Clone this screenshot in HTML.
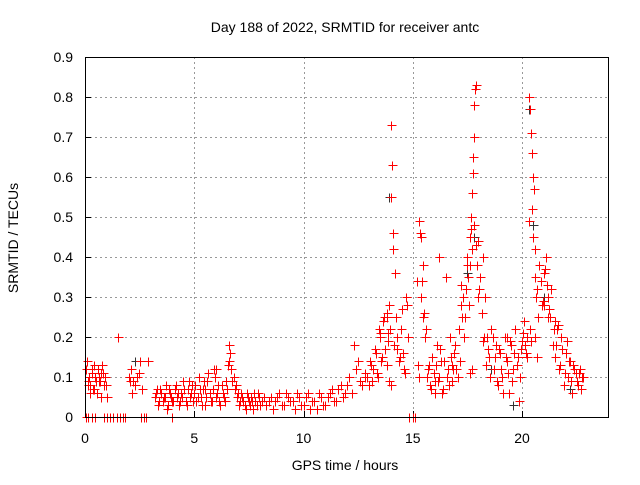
<!DOCTYPE html>
<html><head><meta charset="utf-8"><style>
body{margin:0;background:#fff}
svg text{font-family:"Liberation Sans",sans-serif;font-size:14px;fill:#000}
</style></head><body>
<svg id="chart" width="640" height="480" viewBox="0 0 640 480" xmlns="http://www.w3.org/2000/svg">
<text x="345" y="32" text-anchor="middle">Day 188 of 2022, SRMTID for receiver antc</text>
<text x="345" y="470" text-anchor="middle">GPS time / hours</text>
<text transform="translate(18,238) rotate(-90)" text-anchor="middle">SRMTID / TECUs</text>
<g id="grid"></g>
<g id="ticks"></g>
<g id="pts2"></g>
<g id="pts"></g>
<rect x="85.5" y="57.5" width="523" height="360" fill="none" stroke="#000" stroke-width="1"/>
</svg>
<script>
const xTicks=[0,5,10,15,20];
const yTicks=[0,0.1,0.2,0.3,0.4,0.5,0.6,0.7,0.8,0.9];
const yTickLabels=["0","0.1","0.2","0.3","0.4","0.5","0.6","0.7","0.8","0.9"];
const redT=[0.05,0.1,0.15,0.2,0.25,0.3,0.35,0.4,0.45,0.5,0.55,0.6,0.65,0.7,0.75,0.8,0.85,0.9,1.0,1.5,2.0,2.1,2.2,2.4,2.5,2.6,2.9,3.2,3.3,3.4,3.5,3.6,3.7,3.8,3.9,4.0,4.1,4.2,4.3,4.4,4.5,4.6,4.7,4.8,4.9,5.0,5.1,5.2,5.3,5.4,5.5,5.6,5.7,5.8,5.9,6.0,6.1,6.2,6.3,6.4,6.5,6.6,6.6,6.7,6.8,6.9,7.0,7.1,7.2,7.3,7.4,7.5,7.6,7.7,7.8,7.9,8.0,8.2,8.4,8.6,8.8,9.0,9.2,9.4,9.6,9.8,10.0,10.2,10.4,10.6,10.8,11.0,11.2,11.4,11.6,11.8,12.0,12.2,12.3,12.4,12.6,12.8,13.0,13.1,13.2,13.3,13.4,13.5,13.6,13.7,13.8,13.85,13.9,13.95,14.0,14.0,14.05,14.1,14.1,14.2,14.3,14.4,14.5,14.6,14.7,14.8,15.2,15.3,15.3,15.35,15.4,15.45,15.5,15.6,15.7,15.8,15.9,16.0,16.1,16.2,16.3,16.4,16.5,16.6,16.7,16.8,16.9,17.0,17.1,17.2,17.3,17.4,17.5,17.55,17.6,17.65,17.7,17.72,17.75,17.75,17.8,17.8,17.85,17.9,18.0,18.1,18.2,18.3,18.4,18.5,18.6,18.7,18.8,18.9,19.0,19.1,19.2,19.3,19.4,19.5,19.6,19.7,19.8,19.9,20.0,20.1,20.2,20.25,20.3,20.3,20.35,20.4,20.45,20.5,20.55,20.6,20.7,20.8,20.9,21.0,21.1,21.2,21.3,21.4,21.5,21.6,21.7,21.8,21.9,22.0,22.1,22.2,22.3,22.4,22.5,22.6,22.7,22.8,13.5,13.8,14.3,17.2,17.5,18.2,19.0,20.6,21.0,21.5,16.0,16.8,12.8,6.0,5.5,4.8];
const redV=[0.12,0.14,0.09,0.1,0.08,0.11,0.07,0.13,0.1,0.09,0.06,0.12,0.1,0.09,0.11,0.13,0.08,0.1,0.05,0.2,0.1,0.12,0.09,0.1,0.14,0.07,0.14,0.05,0.07,0.04,0.06,0.05,0.08,0.03,0.06,0.04,0.07,0.05,0.03,0.06,0.09,0.04,0.07,0.05,0.08,0.06,0.04,0.1,0.05,0.07,0.03,0.09,0.06,0.04,0.12,0.05,0.08,0.03,0.06,0.04,0.07,0.18,0.14,0.12,0.1,0.08,0.06,0.04,0.05,0.03,0.06,0.04,0.05,0.02,0.04,0.06,0.03,0.05,0.04,0.02,0.05,0.03,0.06,0.04,0.02,0.05,0.03,0.06,0.04,0.02,0.05,0.03,0.06,0.04,0.07,0.05,0.08,0.06,0.18,0.12,0.09,0.11,0.08,0.13,0.12,0.16,0.1,0.2,0.15,0.25,0.13,0.19,0.28,0.22,0.55,0.73,0.63,0.42,0.46,0.36,0.2,0.15,0.27,0.12,0.3,0.2,0.34,0.1,0.49,0.46,0.3,0.38,0.26,0.22,0.12,0.08,0.15,0.06,0.18,0.1,0.14,0.07,0.35,0.12,0.2,0.09,0.16,0.12,0.22,0.28,0.3,0.25,0.4,0.35,0.45,0.5,0.42,0.56,0.61,0.65,0.7,0.78,0.82,0.83,0.44,0.35,0.4,0.3,0.2,0.15,0.22,0.12,0.18,0.08,0.16,0.1,0.2,0.14,0.06,0.18,0.12,0.22,0.15,0.1,0.19,0.24,0.16,0.2,0.49,0.8,0.77,0.71,0.66,0.6,0.57,0.42,0.32,0.38,0.28,0.36,0.4,0.3,0.25,0.18,0.15,0.22,0.12,0.2,0.08,0.16,0.1,0.14,0.06,0.12,0.09,0.11,0.07,0.1,0.21,0.25,0.17,0.33,0.38,0.19,0.16,0.42,0.28,0.24,0.09,0.13,0.1,0.12,0.07,0.05];
const moreT=[0.12,0.22,0.32,0.42,0.62,0.72,0.82,0.95,2.05,2.15,2.3,2.45,3.25,3.35,3.45,3.55,3.65,3.75,3.85,3.95,4.05,4.15,4.25,4.35,4.45,4.55,4.65,4.75,4.85,4.95,5.05,5.15,5.25,5.35,5.45,5.55,5.65,5.75,5.85,5.95,6.05,6.15,6.25,6.35,6.45,6.55,6.65,6.75,6.85,6.95,7.05,7.15,7.25,7.35,7.45,7.55,7.65,7.75,7.85,7.95,8.1,8.3,8.5,8.7,8.9,9.1,9.3,9.5,9.7,9.9,10.1,10.3,10.5,10.7,10.9,11.1,11.3,11.5,11.7,11.9,12.1,12.5,12.7,12.9,13.05,13.15,13.25,13.35,13.45,13.55,13.65,13.75,13.82,13.88,14.15,14.25,14.35,14.45,14.55,14.65,14.75,15.25,15.38,15.42,15.48,15.55,15.65,15.75,15.85,15.95,16.05,16.15,16.25,16.35,16.45,16.55,16.65,16.75,16.85,16.95,17.05,17.15,17.25,17.35,17.45,17.58,17.62,17.68,17.82,17.88,17.95,18.05,18.15,18.25,18.35,18.45,18.55,18.65,18.75,18.85,18.95,19.05,19.15,19.25,19.35,19.45,19.55,19.65,19.75,19.85,19.95,20.05,20.15,20.22,20.38,20.42,20.48,20.52,20.58,20.65,20.75,20.85,20.95,21.05,21.15,21.25,21.35,21.45,21.55,21.65,21.75,21.85,21.95,22.05,22.15,22.25,22.35,22.45,22.55,22.65,22.75,14.0,13.9,17.7,17.6,20.6,20.7,16.2,18.0,19.3,21.2];
const moreV=[0.08,0.06,0.12,0.07,0.09,0.05,0.11,0.08,0.09,0.06,0.08,0.11,0.06,0.03,0.07,0.04,0.05,0.02,0.07,0.05,0.04,0.08,0.06,0.04,0.05,0.07,0.03,0.09,0.06,0.04,0.08,0.05,0.07,0.03,0.09,0.05,0.11,0.04,0.07,0.1,0.06,0.04,0.08,0.05,0.09,0.13,0.16,0.09,0.07,0.05,0.03,0.06,0.04,0.02,0.05,0.03,0.04,0.06,0.03,0.05,0.04,0.03,0.05,0.04,0.06,0.03,0.05,0.04,0.06,0.03,0.05,0.02,0.04,0.06,0.03,0.05,0.07,0.04,0.08,0.06,0.1,0.14,0.08,0.1,0.14,0.09,0.17,0.11,0.22,0.14,0.24,0.17,0.26,0.21,0.18,0.25,0.14,0.22,0.16,0.11,0.28,0.13,0.45,0.34,0.25,0.2,0.1,0.13,0.07,0.11,0.13,0.09,0.17,0.06,0.14,0.1,0.08,0.15,0.12,0.18,0.1,0.14,0.25,0.2,0.32,0.28,0.38,0.47,0.48,0.43,0.38,0.32,0.26,0.2,0.13,0.17,0.1,0.2,0.15,0.09,0.17,0.12,0.06,0.15,0.11,0.19,0.09,0.16,0.13,0.04,0.17,0.21,0.18,0.15,0.22,0.19,0.52,0.45,0.35,0.3,0.25,0.34,0.29,0.37,0.33,0.27,0.32,0.22,0.18,0.23,0.13,0.17,0.11,0.19,0.14,0.09,0.13,0.11,0.08,0.12,0.1,0.08,0.09,0.12,0.11,0.2,0.15,0.4,0.3,0.2,0.25,0.24,0.35,0.08,0.19];
const zeroT=[0.05,0.15,0.3,0.45,0.85,1.0,1.15,1.3,1.45,1.6,1.75,1.85,2.55,2.7,2.8,4.0,14.85,15.0,15.1];
const blackT=[2.3,13.9,17.5,17.8,18.6,19.6,20.3,20.5,21.0,22.2];
const blackV=[0.14,0.55,0.36,0.45,0.12,0.03,0.77,0.48,0.3,0.07];
const NS="http://www.w3.org/2000/svg";
const X=t=>85+t*21.85, Y=v=>417-v*400;
function mk(tag,a,p){const e=document.createElementNS(NS,tag);for(const k in a)e.setAttribute(k,a[k]);p.appendChild(e);return e;}
const g=document.getElementById('grid'),tk=document.getElementById('ticks');
xTicks.forEach(t=>{
 const px=Math.round(X(t))+0.5;
 if(t>0){const l=mk('line',{x1:px,x2:px,y1:57,y2:417,stroke:'#999','stroke-dasharray':'2,3'},g);}
 const s=mk('text',{x:X(t),y:443,'text-anchor':'middle'},tk);s.textContent=t;
 
 mk('line',{x1:px,x2:px,y1:417,y2:411,stroke:'#000'},tk);
});
yTicks.forEach((v,i)=>{
 const py=Math.round(Y(v))+0.5;
 if(v>0&&v<0.9){const l=mk('line',{x1:85,x2:609,y1:py,y2:py,stroke:'#999','stroke-dasharray':'2,3'},g);}
 const s=mk('text',{x:73,y:Y(v)+5,'text-anchor':'end'},tk);s.textContent=yTickLabels[i];
 
 mk('line',{x1:85,x2:91,y1:py,y2:py,stroke:'#000'},tk);
});
function plus(t,v,c,p){const x=Math.round(X(t))+0.5,y=Math.round(Y(v))+0.5;
 const e=mk('path',{d:`M${x-4},${y}H${x+5}M${x},${y-4}V${y+5}`,stroke:c,'stroke-width':1,fill:'none'},p);
 
 }
const pr=document.getElementById('pts'),pb=document.getElementById('pts2');
blackT.forEach((t,i)=>plus(t,blackV[i],'#333',pb));
redT.forEach((t,i)=>plus(t,redV[i],'#ff0000',pr));
moreT.forEach((t,i)=>plus(t,moreV[i],'#ff0000',pr));
zeroT.forEach(t=>plus(t,0,'#ff0000',pr));
</script>
</body></html>
